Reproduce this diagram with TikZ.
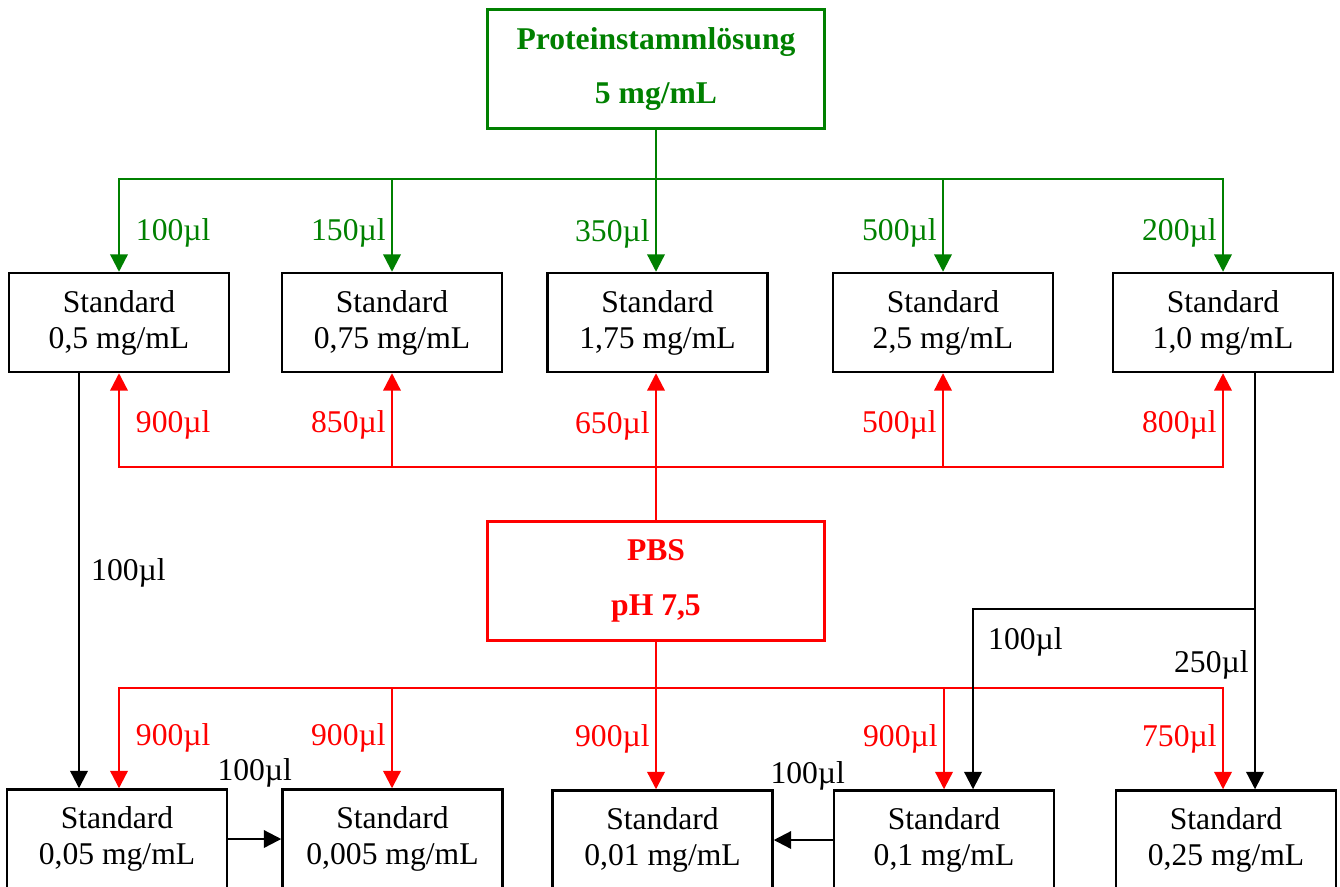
\documentclass[tikz,border=0pt]{standalone}
\usepackage{fontspec}
\setmainfont{Liberation Serif}
\usetikzlibrary{arrows.meta}

\definecolor{stockgreen}{RGB}{0,128,0}
\definecolor{bufferred}{RGB}{255,0,0}
\newcommand{\diafont}{\fontsize{18}{20.5}\selectfont}

\begin{document}
\begin{tikzpicture}[x=0.2mm, y=-0.2mm,
  >={Triangle[length=3.5mm, width=3.5mm]},
  every node/.style={font=\diafont},
  stdbox/.style={draw=black, line width=1.4pt, align=center, inner sep=0pt,
    minimum width=4.4cm, minimum height=1.98cm},
  srcbox/.style={draw, line width=1.4pt, align=center, inner sep=0pt,
    minimum width=6.74cm, minimum height=2.38cm, font=\diafont\bfseries},
  vol/.style={inner sep=3pt},
]
\useasboundingbox (0,0) rectangle (1340,886);

% source solutions
\node[srcbox, stockgreen] (stock) at (656,69) {Proteinstammlösung\\[9.7pt]5 mg/mL};
\node[srcbox, bufferred] (pbs) at (656,581) {PBS\\[10.8pt]pH 7,5};

% first dilution row
\node[stdbox] (s1) at (119,322.5) {Standard\\0,5 mg/mL};
\node[stdbox] (s2) at (392,322.5) {Standard\\0,75 mg/mL};
\node[stdbox] (s3) at (657.5,322.5) {Standard\\1,75 mg/mL};
\node[stdbox] (s4) at (943,322.5) {Standard\\2,5 mg/mL};
\node[stdbox] (s5) at (1223,322.5) {Standard\\1,0 mg/mL};

% second dilution row
\node[stdbox] (b1) at (117,839) {Standard\\0,05 mg/mL};
\node[stdbox] (b2) at (392.5,839) {Standard\\0,005 mg/mL};
\node[stdbox] (b3) at (662.5,840) {Standard\\0,01 mg/mL};
\node[stdbox] (b4) at (944,840) {Standard\\0,1 mg/mL};
\node[stdbox] (b5) at (1226,840) {Standard\\0,25 mg/mL};

\coordinate (gbus) at (0,179);
\coordinate (rtop) at (0,467);
\coordinate (rbot) at (0,688);
\coordinate (split) at (0,609);
\coordinate (k1) at (79,0);
\coordinate (k4) at (973,0);
\coordinate (k5) at (1255,0);

\begin{scope}[stockgreen, line width=1.3pt]
  \draw[line cap=rect] (s1.north |- gbus) -- (s5.north |- gbus);
  \draw[->] (s1.north |- gbus) -- node[vol, right, xshift=6pt, pos=0.58] {100µl} (s1.north);
  \draw[->] (s2.north |- gbus) -- node[vol, left, pos=0.58] {150µl} (s2.north);
  \draw[->] (stock.south) -- node[vol, left, pos=0.73] {350µl} (stock.south |- s3.north);
  \draw[->] (s4.north |- gbus) -- node[vol, left, pos=0.58] {500µl} (s4.north);
  \draw[->] (s5.north |- gbus) -- node[vol, left, pos=0.58] {200µl} (s5.north);
\end{scope}

\begin{scope}[bufferred, line width=1.3pt]
  \draw[line cap=rect] (s1.south |- rtop) -- (s5.south |- rtop);
  \draw[->] (pbs.north) -- node[vol, left, pos=0.64] {650µl} (pbs.north |- s3.south);
  \draw[->] (s1.south |- rtop) -- node[vol, right, xshift=6pt, pos=0.45] {900µl} (s1.south);
  \draw[->] (s2.south |- rtop) -- node[vol, left, pos=0.45] {850µl} (s2.south);
  \draw[->] (s4.south |- rtop) -- node[vol, left, pos=0.45] {500µl} (s4.south);
  \draw[->] (s5.south |- rtop) -- node[vol, left, pos=0.45] {800µl} (s5.south);

  \draw[line cap=rect] (s1 |- rbot) -- (s5 |- rbot);
  \draw[->] (pbs.south) -- node[vol, left, pos=0.66] {900µl} (pbs.south |- b3.north);
  \draw[->] (s1 |- rbot) -- node[vol, right, xshift=6pt] {900µl} (s1 |- b1.north);
  \draw[->] (s2 |- rbot) -- node[vol, left] {900µl} (s2 |- b2.north);
  \draw[->] (b4.north |- rbot) -- node[vol, left] {900µl} (b4.north);
  \draw[->] (s5 |- rbot) -- node[vol, left] {750µl} (s5 |- b5.north);
\end{scope}

\begin{scope}[black, line width=1.3pt]
  \draw[->] (s1.south -| k1) -- node[vol, right, xshift=3.3pt, pos=0.48] {100µl} (b1.north -| k1);
  \draw[->] (s5.south -| k5) -- node[vol, left, pos=0.70] {250µl} (b5.north -| k5);
  \draw[->] (k5 |- split) -| node[vol, right, xshift=5pt, pos=0.59] {100µl} (b4.north -| k4);
  \draw[->] (b1) -- node[yshift=1.33cm] {100µl} (b2);
  \draw[->] (b4) -- node[yshift=1.28cm, xshift=0.09cm] {100µl} (b3);
\end{scope}

\end{tikzpicture}
\end{document}
